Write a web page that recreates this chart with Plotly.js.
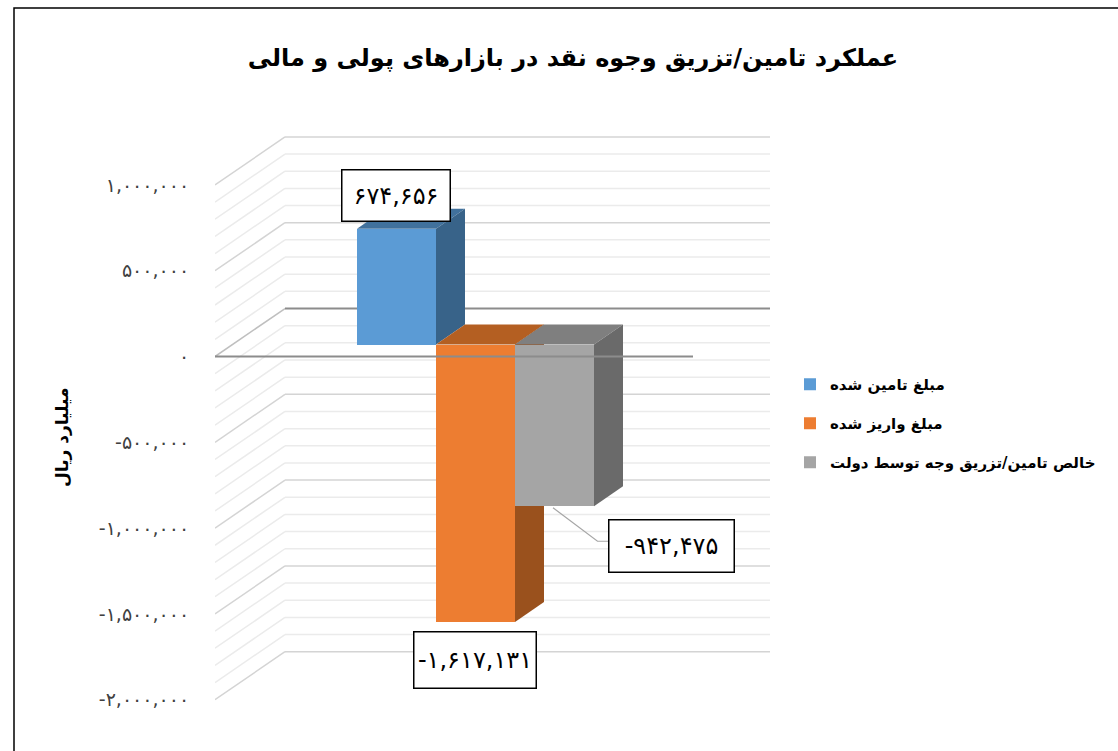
<!DOCTYPE html>
<html>
<head>
<meta charset="utf-8">
<script src="https://cdn.plot.ly/plotly-3.0.1.min.js"></script>
<style>
  html, body { margin: 0; padding: 0; background: #ffffff; }
  #chart { width: 1118px; height: 751px; }
</style>
</head>
<body>
<div id="chart"></div>
<script>
// ---------------- DATA ----------------
const categories = ['مبلغ تامین شده', 'مبلغ واریز شده', 'خالص تامین/تزریق وجه توسط دولت'];
const values = [674656, -1617131, -942475];
const yTickVals = [1000000, 500000, 0, -500000, -1000000, -1500000, -2000000];
const gridStep = 100000;
const chartTitle = 'عملکرد تامین/تزریق وجوه نقد در بازارهای پولی و مالی';
const yAxisTitle = 'میلیارد ریال';

// ---------------- STYLE ----------------
const frontColors = ['#5B9BD5', '#ED7D31', '#A5A5A5'];
const topColors   = ['#41719C', '#B45F22', '#7F7F7F'];
const sideColors  = ['#386389', '#9A511D', '#6A6A6A'];
const FONT = 'DejaVu Sans, Noto Sans, sans-serif';

// geometry (pixels)
const W = 1118, H = 751;
const M = {l: 215, r: 343, t: 130, b: 41};
const plotW = W - M.l - M.r, plotH = H - M.t - M.b;
const yRange = [-2060000, 1320000];
const kY = (yRange[1] - yRange[0]) / plotH;   // value units per pixel
const xRange = [0, plotW];                      // 1 x-unit = 1 pixel
const wallDX = 70, wallDY = 48;                 // depth of side wall / floor
const barFront = {dx: 17.5, dy: 12};            // bar front face depth offset
const barDepth = {dx: 29, dy: 20};              // bar depth
const barW = 79, firstBarX = 124.5;
const backWallEnd = 555, floorFrontEnd = 478;

const toFa = n => {
  const s = Math.abs(n).toLocaleString('en-US').replace(/[0-9]/g, d => '۰۱۲۳۴۵۶۷۸۹'[d]);
  return (n < 0 ? '-' : '') + s;
};
const px2paperX = p => (p - M.l) / plotW;
const px2paperY = p => 1 - (p - M.t) / plotH;

const shapes = [];
// walls gridlines
const gMin = Math.min(...yTickVals), gMax = Math.max(...yTickVals);
for (let v = gMin; v <= gMax + 1; v += gridStep) {
  const major = Math.abs(v % 500000) < 1;
  const isZero = Math.abs(v) < 1;
  const col = isZero ? '#BFBFBF' : (major ? '#D4D4D4' : '#EBEBEB');
  const yb = v + wallDY * kY;
  shapes.push({type: 'line', layer: 'below', xref: 'x', yref: 'y',
    x0: 0, y0: v, x1: wallDX, y1: yb, line: {color: col, width: 1.5}});
  shapes.push({type: 'line', layer: 'below', xref: 'x', yref: 'y',
    x0: wallDX, y0: yb, x1: backWallEnd, y1: yb,
    line: {color: isZero ? '#8C8C8C' : col, width: isZero ? 1.8 : 1.5}});
}

// bar side/top faces
const barCenters = [], bases = [];
values.forEach((v, i) => {
  const fx = firstBarX + i * barW + barFront.dx;
  const base = barFront.dy * kY;
  const ddy = barDepth.dy * kY, ddx = barDepth.dx;
  barCenters.push(fx + barW / 2); bases.push(base);
  const top = base + Math.max(v, 0);
  // top face
  shapes.push({type: 'path', layer: 'below', xref: 'x', yref: 'y',
    path: `M${fx},${top} L${fx + barW},${top} L${fx + barW + ddx},${top + ddy} L${fx + ddx},${top + ddy} Z`,
    fillcolor: topColors[i], line: {width: 0}});
  // right side face
  shapes.push({type: 'path', layer: 'below', xref: 'x', yref: 'y',
    path: `M${fx + barW},${base} L${fx + barW + ddx},${base + ddy} L${fx + barW + ddx},${base + v + ddy} L${fx + barW},${base + v} Z`,
    fillcolor: sideColors[i], line: {width: 0}});
});

// floor front edge
shapes.push({type: 'line', layer: 'above', xref: 'x', yref: 'y',
  x0: 0, y0: 0, x1: floorFrontEnd, y1: 0, line: {color: '#8C8C8C', width: 1.8}});

// outer chart border
shapes.push({type: 'rect', xref: 'paper', yref: 'paper',
  x0: px2paperX(14), y0: px2paperY(8), x1: px2paperX(1130), y1: px2paperY(770),
  line: {color: '#000000', width: 1.5}, fillcolor: 'rgba(0,0,0,0)'});

// front faces as bar traces
const traces = values.map((v, i) => ({
  type: 'bar', name: categories[i], x: [barCenters[i]], y: [v], base: [bases[i]],
  width: barW, marker: {color: frontColors[i], line: {width: 0}},
  legendgroup: 'g' + i, hoverinfo: 'skip', cliponaxis: false
}));

// data labels
const labelOffsets = [ // [xshift, yshift, width, height] in px
  [-1, 33, 107, 50],
  [-1, -37.5, 121, 55],
  [116.5, -40, 124, 51]
];
const annotations = values.map((v, i) => ({
  xref: 'x', yref: 'y', x: barCenters[i], y: bases[i] + v,
  xshift: labelOffsets[i][0], yshift: labelOffsets[i][1],
  xanchor: 'center', yanchor: 'middle', showarrow: false,
  text: toFa(v), font: {family: FONT, size: 24, color: '#000000'},
  width: labelOffsets[i][2], height: labelOffsets[i][3],
  bgcolor: '#FFFFFF', bordercolor: '#000000', borderwidth: 1.5, borderpad: 0
}));
// leader line for third label
{
  const i = 2, ax = barCenters[i], ay = bases[i] + values[i];
  shapes.push({type: 'path', layer: 'above', xref: 'x', yref: 'y',
    path: `M${ax - 1.5},${ay - 1.5 * kY} L${ax + 43},${ay - 35 * kY} L${ax + 54},${ay - 35 * kY}`,
    line: {color: '#A6A6A6', width: 1.2}});
}
annotations.push({
  xref: 'paper', yref: 'paper', x: px2paperX(62), y: px2paperY(438),
  xanchor: 'center', yanchor: 'middle', showarrow: false, textangle: -90,
  text: yAxisTitle, font: {family: FONT, size: 17, color: '#000000', weight: 'bold'}
});

const layout = {
  width: W, height: H, autosize: false,
  margin: M,
  paper_bgcolor: '#FFFFFF', plot_bgcolor: 'rgba(0,0,0,0)',
  title: {text: chartTitle, xref: 'container', yref: 'container',
          x: 573 / W, y: 1 - 58 / H, xanchor: 'center', yanchor: 'middle',
          font: {family: FONT, size: 24, color: '#000000', weight: 'bold'}},
  xaxis: {range: xRange, visible: false, fixedrange: true},
  yaxis: {range: yRange, showgrid: false, zeroline: false, showline: false,
          tickmode: 'array', tickvals: yTickVals, ticktext: yTickVals.map(toFa),
          ticks: 'outside', ticklen: 21, tickcolor: 'rgba(0,0,0,0)',
          tickfont: {family: FONT, size: 19, color: '#404040'}, fixedrange: true},
  showlegend: true,
  legend: {x: px2paperX(790), y: px2paperY(368), xanchor: 'left', yanchor: 'top',
           traceorder: 'grouped', tracegroupgap: 16.5, bgcolor: 'rgba(0,0,0,0)',
           font: {family: FONT, size: 15, color: '#000000', weight: 'bold'}},
  bargap: 0,
  shapes: shapes,
  annotations: annotations
};

Plotly.newPlot('chart', traces, layout, {displayModeBar: false, staticPlot: true});
</script>
</body>
</html>
